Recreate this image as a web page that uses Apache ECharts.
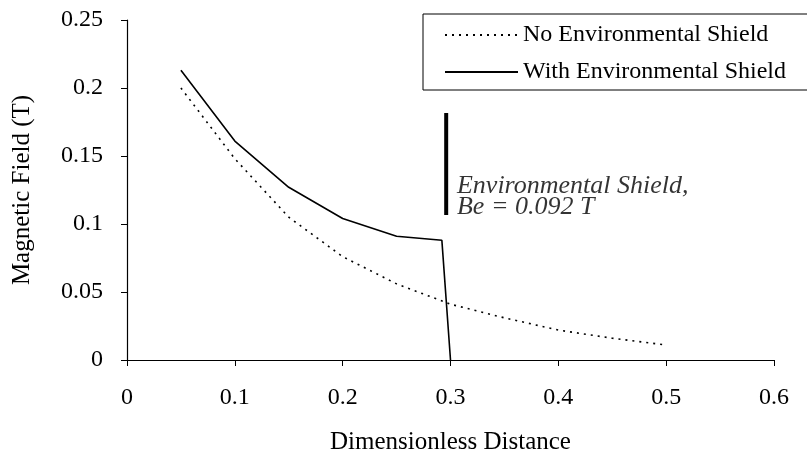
<!DOCTYPE html>
<html><head><meta charset="utf-8">
<script src="https://cdn.jsdelivr.net/npm/echarts@6/dist/echarts.min.js"></script>
<style>html,body{margin:0;padding:0;background:#fff}#c{width:807px;height:452px}</style>
</head><body><div id="c"></div>
<script>
var noShieldX = [0.05, 0.1, 0.15, 0.2, 0.25, 0.3, 0.35, 0.4, 0.45, 0.5];
var noShieldY = [0.200, 0.148, 0.105, 0.076, 0.056, 0.041, 0.031, 0.022, 0.016, 0.011];
var withShieldX = [0.05, 0.1, 0.15, 0.2, 0.25, 0.292, 0.3];
var withShieldY = [0.213, 0.161, 0.127, 0.104, 0.091, 0.088, 0];
var shieldMarkX = [0.296, 0.296];
var shieldMarkY = [0.1066, 0.1816];
var labelPoint = [0.306, 0.1199];
var xTicks = [0, 0.1, 0.2, 0.3, 0.4, 0.5, 0.6];
var yTicks = [0, 0.05, 0.1, 0.15, 0.2, 0.25];

function pairs(xs, ys){ return xs.map(function(x,i){return [x, ys[i]];}); }
var font = 'Liberation Serif';
var chart = echarts.init(document.getElementById('c'), null, {renderer:'canvas'});
chart.setOption({
  animation:false,
  backgroundColor:'#fff',
  textStyle:{fontFamily:font, color:'#000'},
  grid:{left:127, right:33, top:20, bottom:92, containLabel:false, outerBoundsMode:'none'},
  xAxis:{type:'value', min:xTicks[0], max:xTicks[xTicks.length-1], interval:0.1,
    name:'Dimensionless Distance', nameLocation:'middle', nameGap:70,
    nameTextStyle:{fontFamily:font, fontSize:25, color:'#000'},
    axisLine:{show:true, onZero:false, lineStyle:{color:'#000', width:1.2}},
    axisTick:{show:true, inside:false, length:6, lineStyle:{color:'#000'}},
    axisLabel:{fontFamily:font, fontSize:24, color:'#000', margin:26, formatter:function(v){return String(+v.toFixed(2));}},
    splitLine:{show:false}},
  yAxis:{type:'value', min:yTicks[0], max:yTicks[yTicks.length-1], interval:0.05,
    name:'Magnetic Field (T)', nameLocation:'middle', nameGap:92, nameRotate:90,
    nameTextStyle:{fontFamily:font, fontSize:25, color:'#000'},
    axisLine:{show:true, lineStyle:{color:'#000', width:1.2}},
    axisTick:{show:true, inside:false, length:6, lineStyle:{color:'#000'}},
    axisLabel:{fontFamily:font, fontSize:24, color:'#000', margin:24, formatter:function(v){return String(+v.toFixed(2));}},
    splitLine:{show:false}},
  legend:{orient:'vertical', left:423, top:14, padding:[8,60,5,21], itemGap:11,
    itemWidth:73, itemHeight:14, borderColor:'#000', borderWidth:1, backgroundColor:'#fff',
    itemStyle:{color:'rgba(0,0,0,0)', borderColor:'rgba(0,0,0,0)', borderWidth:0},
    textStyle:{fontFamily:font, fontSize:24, lineHeight:26, color:'#000'},
    data:['No Environmental Shield','With Environmental Shield']},
  series:[
    {name:'No Environmental Shield', type:'line', symbol:'none', data:pairs(noShieldX,noShieldY),
      lineStyle:{color:'#000', width:1.6, type:[2,5]}, itemStyle:{color:'#000'}},
    {name:'With Environmental Shield', type:'line', symbol:'none', data:pairs(withShieldX,withShieldY),
      lineStyle:{color:'#000', width:1.6, type:'solid'}, itemStyle:{color:'#000'}},
    {name:'shieldMark', type:'line', symbol:'none', data:pairs(shieldMarkX,shieldMarkY),
      lineStyle:{color:'#000', width:4}, silent:true},
    {name:'shieldLabel', type:'scatter', symbolSize:0, data:[labelPoint], silent:true,
      label:{show:true, position:'right', distance:0, fontFamily:font, fontStyle:'italic', fontSize:26, color:'#000',
        lineHeight:21, align:'left',
        formatter:'Environmental Shield,\nBe = 0.092 T'}}
  ]
});
</script></body></html>
